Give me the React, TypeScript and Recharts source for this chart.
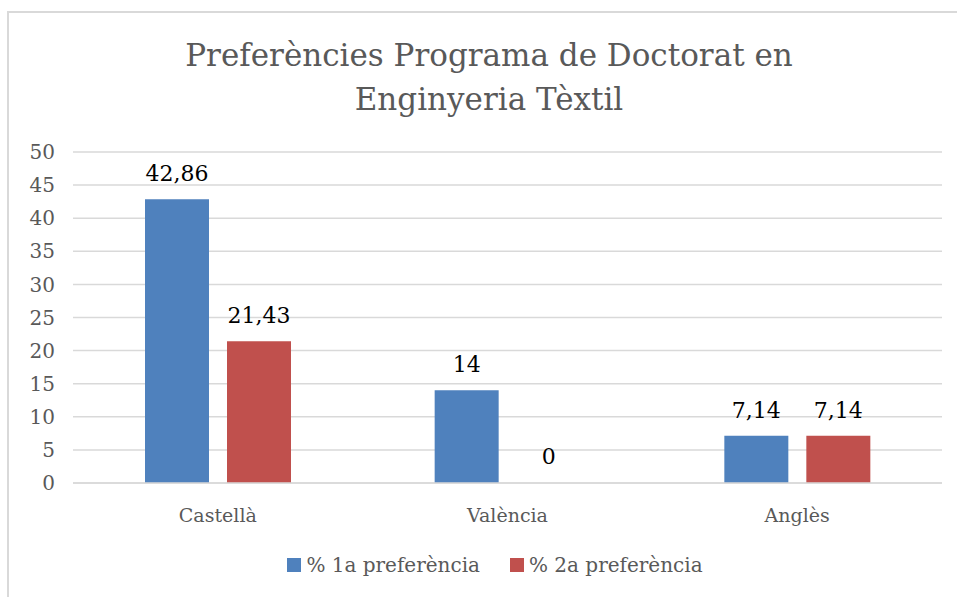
import React from 'react';
import { BarChart, Bar, XAxis, YAxis, CartesianGrid, LabelList, Rectangle } from 'recharts';

const categories = ['Castellà', 'València', 'Anglès'];
const firstPref = [42.86, 14, 7.14];
const secondPref = [21.43, 0, 7.14];
const yTicks = [0, 5, 10, 15, 20, 25, 30, 35, 40, 45, 50];

const data = categories.map((name, i) => ({
    name,
    first: firstPref[i],
    second: secondPref[i],
}));

const FONT = "'DejaVu Serif', 'Liberation Serif', serif";
const BLUE = '#4f81bd';
const RED = '#c0504d';
const GREY = '#595959';

const fmt = (v: any) => String(v).replace('.', ',');

// zero values get a minimum height so the label still shows, but no visible bar
const hideZero = (key: string) => (p: any) =>
    p.payload && p.payload[key] === 0 ? <g /> : <Rectangle {...p} />;

const LegendItem = ({ color, label }: { color: string; label: string }) => (
    <div style={{ display: 'flex', alignItems: 'center', marginRight: 30 }}>
        <div style={{ width: 14, height: 14, background: color, marginRight: 5 }} />
        <span>{label}</span>
    </div>
);

const App = () => {
    return (
        <div style={{ position: 'absolute', left: 0, top: 0, width: 957, height: 597, background: '#fff', fontFamily: FONT }}>
            {/* chart frame */}
            <div
                style={{
                    position: 'absolute',
                    left: 7,
                    top: 11,
                    width: 960,
                    height: 600,
                    borderLeft: '2px solid #d9d9d9',
                    borderTop: '2px solid #d9d9d9',
                }}
            />
            <div
                style={{
                    position: 'absolute',
                    left: 0,
                    top: 33,
                    width: 978,
                    textAlign: 'center',
                    fontSize: 31,
                    lineHeight: '44px',
                    color: GREY,
                }}
            >
                Preferències Programa de Doctorat en
                <br />
                Enginyeria Tèxtil
            </div>
            <div style={{ position: 'absolute', left: 0, top: 0 }}>
                <BarChart
                    width={957}
                    height={597}
                    data={data}
                    margin={{ top: 152, right: 15, bottom: 84, left: 13 }}
                    barCategoryGap="24.8%"
                    barGap={18}
                >
                    <CartesianGrid vertical={false} stroke="#d9d9d9" strokeWidth={1.5} />
                    <XAxis
                        dataKey="name"
                        axisLine={{ stroke: '#d9d9d9', strokeWidth: 1.5 }}
                        tickLine={false}
                        tickMargin={20}
                        tick={{ fill: GREY, fontSize: 19, fontFamily: FONT }}
                        height={30}
                    />
                    <YAxis
                        domain={[0, 50]}
                        ticks={yTicks}
                        interval={0}
                        axisLine={false}
                        tickLine={false}
                        width={60}
                        tickMargin={12}
                        tick={{ fill: GREY, fontSize: 20, fontFamily: FONT }}
                    />
                    <Bar dataKey="first" fill={BLUE} barSize={64} isAnimationActive={false}>
                        <LabelList dataKey="first" position="top" offset={18} formatter={fmt} style={{ fill: '#000', fontSize: 22, fontFamily: FONT }} />
                    </Bar>
                    <Bar dataKey="second" fill={RED} barSize={64} minPointSize={1} shape={hideZero('second')} isAnimationActive={false}>
                        <LabelList dataKey="second" position="top" offset={18} formatter={fmt} style={{ fill: '#000', fontSize: 22, fontFamily: FONT }} />
                    </Bar>
                </BarChart>
            </div>
            <div
                style={{
                    position: 'absolute',
                    left: 0,
                    top: 553,
                    width: 1020,
                    display: 'flex',
                    justifyContent: 'center',
                    fontSize: 20,
                    color: GREY,
                }}
            >
                <LegendItem color={BLUE} label="% 1a preferència" />
                <LegendItem color={RED} label="% 2a preferència" />
            </div>
        </div>
    );
};

export default App;
